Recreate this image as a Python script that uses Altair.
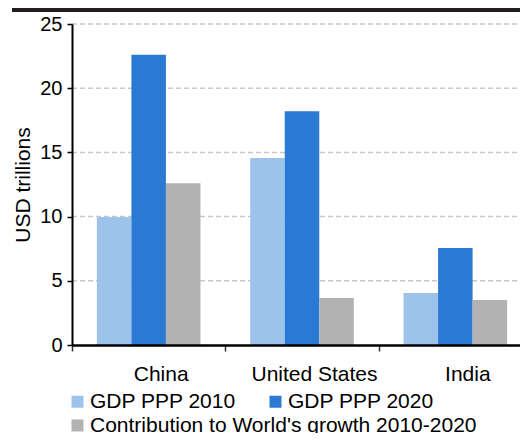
import altair as alt
import pandas as pd

countries = ["China", "United States", "India"]
series = ["GDP PPP 2010", "GDP PPP 2020", "Contribution to World's growth 2010-2020"]
gdp_2010 = [9.97, 14.56, 4.05]
gdp_2020 = [22.6, 18.2, 7.55]
contribution = [12.6, 3.66, 3.5]
colors = ["#9DC3EB", "#2A7AD3", "#B2B2B2"]
y_ticks = [0, 5, 10, 15, 20, 25]

rows = []
for i, c in enumerate(countries):
    for s, vals in zip(series, [gdp_2010, gdp_2020, contribution]):
        rows.append({"country": c, "series": s, "series2": s, "value": vals[i]})
df = pd.DataFrame(rows)
grid_df = pd.DataFrame({"value": y_ticks[1:]})

W, H = 512, 337
AX = 64  # y-axis position inside the view
FONT = "Liberation Sans"

x_enc = alt.X(
    "country:N",
    sort=countries,
    scale=alt.Scale(paddingInner=0, paddingOuter=0, range=[AX, AX + 460]),
    axis=alt.Axis(
        title=None, tickBand="extent", labelAngle=0, labelFontSize=21,
        labelOffset=12, labelPadding=12, domainColor="black", domainWidth=2.5,
        tickColor="#333333", tickSize=6, tickWidth=1.5, grid=False,
        labelColor="black", labelFont=FONT, zindex=1,
    ),
)
xoff_enc = alt.XOffset(
    "series:N",
    scale=alt.Scale(domain=series, paddingInner=0, paddingOuter=0.72),
)
y_scale = alt.Scale(domain=[0, 25], nice=False, range=[H, 16])
y_axis = alt.Axis(
    values=y_ticks, title="USD trillions", titleFontSize=21,
    titleFont=FONT, titleFontWeight="normal", titleColor="black",
    titlePadding=6, labelFontSize=20, labelFont=FONT, labelColor="black",
    labelPadding=5, tickColor="black", tickSize=5, tickWidth=1.5,
    domainColor="black", domainWidth=2, grid=False, offset=-AX, zindex=1,
)
y_enc = alt.Y("value:Q", scale=y_scale, axis=y_axis, title="USD trillions")

legend_common = dict(
    title=None, orient="none", legendX=59, direction="horizontal",
    symbolType="square", symbolSize=144, labelLimit=0,
    symbolStrokeWidth=0, symbolOpacity=1, labelFontSize=21,
    labelFont=FONT, labelColor="black", labelOffset=2,
    columnPadding=29, padding=0,
)

grid = alt.Chart(grid_df).mark_rule(
    color="#C8C8C8", strokeWidth=1.5, strokeDash=[5, 3]
).encode(
    y=y_enc,
    x=alt.value(AX), x2=alt.value(W),
)

bars_gdp = alt.Chart(df).transform_filter(
    alt.FieldOneOfPredicate(field="series", oneOf=series[:2])
).mark_bar().encode(
    x=x_enc, xOffset=xoff_enc, y=y_enc,
    color=alt.Color(
        "series:N", sort=series[:2],
        scale=alt.Scale(domain=series[:2], range=colors[:2]),
        legend=alt.Legend(legendY=383, **legend_common),
    ),
)

bars_contrib = alt.Chart(df).transform_filter(
    alt.FieldEqualPredicate(field="series", equal=series[2])
).mark_bar().encode(
    x=x_enc, xOffset=xoff_enc, y=y_enc,
    fill=alt.Fill(
        "series2:N",
        scale=alt.Scale(domain=series[2:], range=colors[2:]),
        legend=alt.Legend(legendY=407, **legend_common),
    ),
)

top_rule = alt.Chart(grid_df).mark_rule(
    color="#231F20", strokeWidth=3
).encode(
    x=alt.value(4), x2=alt.value(W), y=alt.value(1.5)
)

top_rule2 = alt.Chart(df).mark_rule(
    color="#231F20", strokeWidth=3
).encode(
    x=alt.value(4), x2=alt.value(W), y=alt.datum(26.1)
)

chart = alt.layer(grid, bars_gdp, bars_contrib, top_rule, top_rule2).properties(
    width=W, height=H,
    autosize=alt.AutoSizeParams(type="none"),
    padding={"left": 0, "top": 0, "right": 0, "bottom": 88},
).configure_view(stroke=None)

chart.save("out.html", embed_options={"renderer": "svg", "actions": False})
